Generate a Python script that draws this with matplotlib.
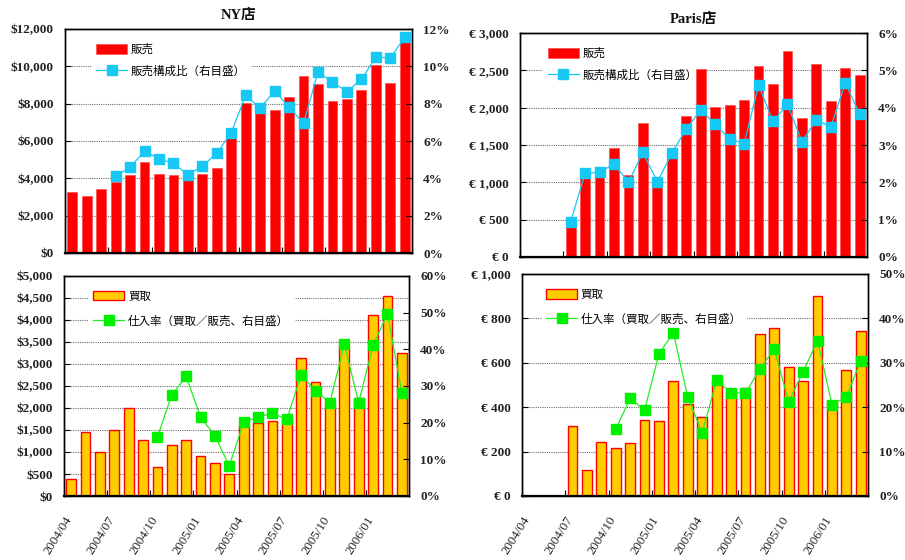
import numpy as np
import matplotlib
matplotlib.use("Agg")
import matplotlib.pyplot as plt
from matplotlib.ticker import FuncFormatter, MultipleLocator
from matplotlib.lines import Line2D
from matplotlib.patches import Patch

# ---- data -------------------------------------------------------------
months = ["2004/04", "2004/05", "2004/06", "2004/07", "2004/08", "2004/09",
          "2004/10", "2004/11", "2004/12", "2005/01", "2005/02", "2005/03",
          "2005/04", "2005/05", "2005/06", "2005/07", "2005/08", "2005/09",
          "2005/10", "2005/11", "2005/12", "2006/01", "2006/02", "2006/03"]
tick_labels = ["2004/04", "2004/07", "2004/10", "2005/01",
               "2005/04", "2005/07", "2005/10", "2006/01"]

nan = np.nan
ny_sales = [3250, 3070, 3430, 3820, 4160, 4870, 4210, 4160, 3930, 4210, 4570, 6150,
            8040, 7500, 7680, 8340, 9480, 9050, 8160, 8270, 8750, 10070, 9120, 11400]
ny_share = [nan, nan, nan, 4.1, 4.6, 5.45, 5.05, 4.8, 4.2, 4.65, 5.35, 6.45,
            8.45, 7.75, 8.7, 7.8, 6.95, 9.7, 9.15, 8.65, 9.3, 10.5, 10.45, 11.55]
ny_purchase = [390, 1460, 1000, 1490, 2010, 1280, 670, 1150, 1280, 900, 740, 510,
               1620, 1650, 1710, 1740, 3130, 2580, 2080, 3430, 2230, 4120, 4540, 3260]
ny_rate = [nan, nan, nan, nan, nan, nan, 16.1, 27.6, 32.6, 21.5, 16.4, 8.2,
           20.2, 21.5, 22.6, 20.9, 33.1, 28.6, 25.5, 41.4, 25.5, 41.1, 49.7, 28.2]

paris_sales = [nan, nan, nan, 420, 1170, 1150, 1455, 1098, 1790, 1000, 1350, 1893,
               2520, 2011, 2042, 2105, 2552, 2315, 2763, 1863, 2584, 2091, 2535, 2432]
paris_share = [nan, nan, nan, 0.94, 2.24, 2.27, 2.49, 2.01, 2.8, 2.01, 2.78, 3.43,
               3.94, 3.56, 3.15, 3.04, 4.6, 3.63, 4.09, 3.09, 3.67, 3.49, 4.66, 3.82]
paris_purchase = [nan, nan, nan, 314, 117, 244, 214, 238, 344, 340, 516, 416,
                  358, 520, 474, 487, 728, 755, 580, 517, 899, 430, 567, 741]
paris_rate = [nan, nan, nan, nan, nan, nan, 15.0, 22.0, 19.3, 32.0, 36.8, 22.2,
              14.3, 26.1, 23.2, 23.2, 28.6, 33.1, 21.2, 28.0, 35.0, 20.6, 22.3, 30.5]

# ---- styling ----------------------------------------------------------
W, H = 905, 560
SERIF = ["Liberation Serif", "Noto Sans CJK JP"]
JP = ["Noto Sans CJK JP", "DejaVu Sans"]
RED = "#FF0000"
GOLD = "#FFCC00"
CYAN = "#18C8F4"
GREEN = "#22EE22"

fig = plt.figure(figsize=(W / 100, H / 100), dpi=100)
fig.patch.set_facecolor("white")


def px_axes(x0, x1, ytop, ybot):
    return fig.add_axes([x0 / W, 1 - ybot / H, (x1 - x0) / W, (ybot - ytop) / H])


def dollar(v, _):
    return f"${v:,.0f}"


def euro(v, _):
    return f"€ {v:,.0f}"


def pct(v, _):
    return f"{v:.0f}%"


x = np.arange(len(months))
boundaries = np.arange(0, 24, 3) - 0.5


def panel(rect, bars, line, ymax, ystep, rmax, rstep, yfmt, bar_kw, line_color,
          marker_color, labels, leg_x, leg_spacing, title=None, show_dates=False):
    ax = px_axes(*rect)
    ax.set_xlim(-0.5, 23.5)
    ax.set_ylim(0, ymax)
    ax.yaxis.set_major_locator(MultipleLocator(ystep))
    ax.yaxis.set_major_formatter(FuncFormatter(yfmt))
    ax.grid(axis="y", color="#707070", linestyle=(0, (1, 1)), linewidth=0.8,
            zorder=0.5)
    ax.set_axisbelow(True)
    ax.bar(x, bars, width=0.68, zorder=2, **bar_kw)

    ax2 = ax.twinx()
    ax2.set_ylim(0, rmax)
    ax2.yaxis.set_major_locator(MultipleLocator(rstep))
    ax2.yaxis.set_major_formatter(FuncFormatter(pct))
    ax2.plot(x, line, color=line_color, lw=0.9, marker="s", markersize=7.5,
             markerfacecolor=marker_color, markeredgecolor=marker_color, zorder=3)

    for a in (ax, ax2):
        for s in a.spines.values():
            s.set_color("black")
            s.set_linewidth(1.0)
        a.tick_params(axis="y", direction="in", length=4, width=0.8,
                      labelsize=9.5, pad=8)
        for t in a.get_yticklabels():
            t.set_fontfamily(SERIF)
            t.set_fontweight("bold")
            t.set_color("#222222")
    ax.spines["bottom"].set_linewidth(1.6)

    ax.set_xticks(boundaries)
    ax.tick_params(axis="x", direction="in", length=4, width=0.8, pad=13)
    if show_dates:
        ax.set_xticklabels(tick_labels, rotation=58, ha="right",
                           rotation_mode="anchor", fontsize=9.3,
                           family=SERIF, color="#222222")
    else:
        ax.set_xticklabels([])

    # legend sits above the gridlines but below the bars
    bar_handle = Patch(**{k: v for k, v in bar_kw.items()
                          if k in ("facecolor", "edgecolor", "linewidth")})
    line_handle = Line2D([], [], color=line_color, lw=0.9, marker="s", markersize=7.5,
                         markerfacecolor=marker_color, markeredgecolor=marker_color)
    leg = ax.legend([bar_handle, line_handle], labels, loc="upper left",
                    bbox_to_anchor=(leg_x, 0.985), frameon=True, fancybox=False,
                    edgecolor="white", facecolor="white", framealpha=1.0,
                    prop={"family": JP, "size": 8.3}, handlelength=2.7,
                    handleheight=0.9, labelspacing=leg_spacing, borderpad=0.4,
                    handletextpad=0.3)
    leg.set_zorder(1)

    if title:
        ax.set_title(title, family=SERIF, fontweight="bold", fontsize=10.5,
                     pad=7, color="#111111")
    return ax


red_bars = dict(facecolor=RED, edgecolor="#FF4040", linewidth=0.4)
gold_bars = dict(facecolor=GOLD, edgecolor=RED, linewidth=1.0)
top_labels = ["販売", "販売構成比（右目盛）"]
bottom_labels = ["買取", "仕入率（買取／販売、右目盛）"]

panel((65, 412, 29, 253), ny_sales, ny_share, 12000, 2000, 12, 2, dollar,
      red_bars, CYAN, CYAN, top_labels, 0.06, 0.75, title="NY店")
panel((520, 867, 33, 257), paris_sales, paris_share, 3000, 500, 6, 1, euro,
      red_bars, CYAN, CYAN, top_labels, 0.05, 0.75, title="Paris店")
panel((64, 409, 276, 496), ny_purchase, ny_rate, 5000, 500, 60, 10, dollar,
      gold_bars, GREEN, "#00F000", bottom_labels, 0.055, 1.05, show_dates=True)
panel((522, 868, 274, 496), paris_purchase, paris_rate, 1000, 200, 50, 10, euro,
      gold_bars, GREEN, "#00F000", bottom_labels, 0.04, 1.05, show_dates=True)

fig.savefig("out.png", dpi=100, facecolor="white")
